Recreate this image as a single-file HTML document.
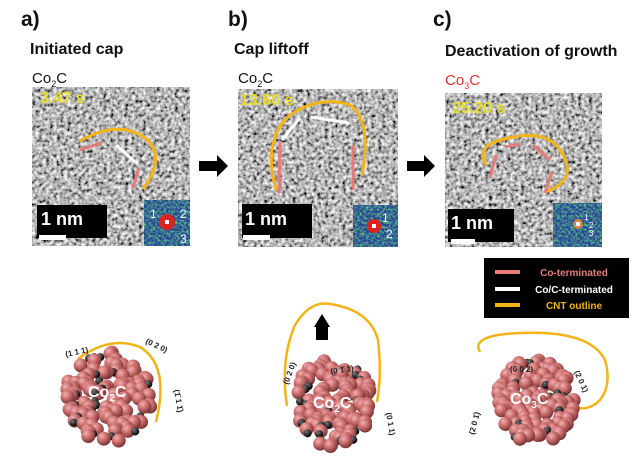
<!DOCTYPE html>
<html><head><meta charset="utf-8"><style>
body{margin:0;width:639px;height:461px;background:#fff;overflow:hidden;position:relative;font-family:"Liberation Sans",sans-serif}
.t{position:absolute;color:#111;white-space:nowrap}
</style></head><body>
<svg width="639" height="461" style="position:absolute;left:0;top:0" xmlns="http://www.w3.org/2000/svg">
<defs>
<filter id="tem" x="0" y="0" width="100%" height="100%">
<feTurbulence type="fractalNoise" baseFrequency="0.28" numOctaves="2" seed="4"/>
<feColorMatrix type="matrix" values="1.7 0 0 0 -0.38  1.7 0 0 0 -0.38  1.7 0 0 0 -0.38  0 0 0 0 1"/>
</filter>
<filter id="fft" x="0" y="0" width="100%" height="100%">
<feTurbulence type="fractalNoise" baseFrequency="0.45" numOctaves="1" seed="7"/>
<feColorMatrix type="matrix" values="0 0 0 0 0.1  0 0 0 0 0.65  0 0 0 0 0.2  2.4 0 0 0 -0.9"/>
</filter>
<radialGradient id="co" cx="35%" cy="30%" r="70%"><stop offset="0" stop-color="#f2b0b0"/><stop offset="0.5" stop-color="#c86a6a"/><stop offset="1" stop-color="#7a3535"/></radialGradient>
<radialGradient id="cc" cx="35%" cy="30%" r="70%"><stop offset="0" stop-color="#777"/><stop offset="1" stop-color="#000"/></radialGradient>
</defs>
<rect x="32" y="87" width="158" height="159" filter="url(#tem)"/>
<rect x="238" y="89" width="160" height="158" filter="url(#tem)"/>
<rect x="445" y="93" width="157" height="154" filter="url(#tem)"/>
<rect x="37" y="205" width="70" height="33" fill="#000"/><rect x="39" y="235" width="27" height="5" fill="#fff"/>
<rect x="242" y="204" width="70" height="34" fill="#000"/><rect x="243" y="235" width="27" height="5" fill="#fff"/>
<rect x="448" y="209" width="66" height="33" fill="#000"/><rect x="451" y="239" width="24" height="5" fill="#fff"/>
<rect x="144" y="200" width="46" height="46" fill="#2a3f9a"/><rect x="144" y="200" width="46" height="46" filter="url(#fft)"/>
<circle cx="167" cy="222" r="8" fill="#d22"/><rect x="165" y="220" width="4" height="4" fill="#fff"/>
<rect x="353" y="205" width="45" height="42" fill="#2a3f9a"/><rect x="353" y="205" width="45" height="42" filter="url(#fft)"/>
<circle cx="374" cy="226" r="7" fill="#d22"/><rect x="372" y="224" width="4" height="4" fill="#fff"/>
<rect x="553" y="203" width="49" height="44" fill="#2a3f9a"/><rect x="553" y="203" width="49" height="44" filter="url(#fft)"/>
<circle cx="578" cy="224" r="5" fill="#c84"/><rect x="576" y="222" width="4" height="4" fill="#fff"/>
<g fill="#fff" font-size="12" font-family="Liberation Sans">
<text x="150" y="218">1</text><text x="180" y="218">2</text><text x="180" y="243">3</text>
<text x="382" y="222">1</text><text x="386" y="238">2</text>
<text x="584" y="220" font-size="8">1</text><text x="589" y="228" font-size="8">2</text><text x="589" y="236" font-size="8">3</text>
</g>
<path d="M80 141 Q120 118 148 140 Q165 160 143 189" fill="none" stroke="#f4b316" stroke-width="3"/>
<line x1="80" y1="150" x2="101" y2="143" stroke="#e87a7a" stroke-width="3"/>
<line x1="116" y1="145" x2="135" y2="162" stroke="#fff" stroke-width="3"/>
<line x1="139" y1="168" x2="133" y2="188" stroke="#e87a7a" stroke-width="3"/>
<path d="M276 190 Q262 140 290 115 Q320 95 350 105 Q372 120 362 175" fill="none" stroke="#f4b316" stroke-width="3"/>
<line x1="280" y1="142" x2="279" y2="193" stroke="#e87a7a" stroke-width="3"/>
<line x1="282" y1="140" x2="300" y2="118" stroke="#fff" stroke-width="3"/>
<line x1="311" y1="117" x2="349" y2="123" stroke="#fff" stroke-width="3"/>
<line x1="353" y1="145" x2="353" y2="190" stroke="#e87a7a" stroke-width="3"/>
<path d="M486 165 Q475 145 505 139 Q545 128 560 150 Q580 180 545 192" fill="none" stroke="#f4b316" stroke-width="3"/>
<line x1="496" y1="155" x2="490" y2="178" stroke="#e87a7a" stroke-width="3"/>
<line x1="505" y1="147" x2="520" y2="144" stroke="#e87a7a" stroke-width="3"/>
<line x1="533" y1="145" x2="550" y2="160" stroke="#e87a7a" stroke-width="3"/>
<line x1="552" y1="172" x2="545" y2="193" stroke="#e87a7a" stroke-width="3"/>
<polygon points="199,161 217,161 217,155 228,166 217,177 217,171 199,171" fill="#000"/>
<polygon points="407,161 424,161 424,155 435,166 424,177 424,171 407,171" fill="#000"/>
<rect x="484" y="258" width="145" height="60" fill="#000"/>
<line x1="495" y1="272" x2="520" y2="272" stroke="#e87a7a" stroke-width="4"/>
<line x1="495" y1="289" x2="520" y2="289" stroke="#fff" stroke-width="4"/>
<line x1="495" y1="305" x2="520" y2="305" stroke="#f4b316" stroke-width="4"/>
<g font-size="10" font-weight="bold" font-family="Liberation Sans" text-anchor="middle">
<text x="574" y="276" fill="#e87a7a">Co-terminated</text>
<text x="574" y="293" fill="#fff">Co/C-terminated</text>
<text x="574" y="309" fill="#f4b316">CNT outline</text>
</g>
<path d="M78 359 Q110 335 140 347 Q170 365 156 422" fill="none" stroke="#f4b316" stroke-width="2.5"/>
<path d="M287 406 Q280 360 295 325 Q310 300 330 304 Q370 310 378 340 Q382 375 377 402" fill="none" stroke="#f4b316" stroke-width="2.5"/>
<path d="M480 352 Q470 335 520 333 Q590 330 605 360 Q612 385 600 400 Q590 410 578 408" fill="none" stroke="#f4b316" stroke-width="2.5"/>
<polygon points="316,325 316,340 328,340 328,325" fill="#000"/>
<polygon points="322,314 314,327 330,327" fill="#000"/>
<g id="atoms"></g>
<g font-size="8" font-weight="bold" fill="#222" font-family="Liberation Sans">
<text x="66" y="357" transform="rotate(-12 66 357)">(1 1 1)</text>
<text x="145" y="343" transform="rotate(25 145 343)">(0 2 0)</text>
<text x="174" y="390" transform="rotate(80 174 390)">(1̄ 1 1̄)</text>
<text x="288" y="385" transform="rotate(-70 288 385)">(0 2 0)</text>
<text x="331" y="374" transform="rotate(-8 331 374)">(0 1̄ 1)</text>
<text x="386" y="413" transform="rotate(80 386 413)">(0 1 1)</text>
<text x="510" y="372">(0 0 2)</text>
<text x="474" y="435" transform="rotate(-75 474 435)">(2 0 1̄)</text>
<text x="574" y="372" transform="rotate(65 574 372)">(2 0 1)</text>
</g>
<g font-size="16" font-weight="bold" fill="#fff" font-family="Liberation Sans">
<text x="88" y="397">Co<tspan font-size="10" dy="4">2</tspan><tspan dy="-4">C</tspan></text>
<text x="313" y="408">Co<tspan font-size="10" dy="4">2</tspan><tspan dy="-4">C</tspan></text>
<text x="510" y="404">Co<tspan font-size="10" dy="4">3</tspan><tspan dy="-4">C</tspan></text>
</g>
</svg>
<div class="t" style="left:21px;top:8px;font-size:21px;font-weight:bold">a)</div>
<div class="t" style="left:228px;top:8px;font-size:21px;font-weight:bold">b)</div>
<div class="t" style="left:433px;top:8px;font-size:21px;font-weight:bold">c)</div>
<div class="t" style="left:30px;top:41px;font-size:16px;font-weight:bold">Initiated cap</div>
<div class="t" style="left:234px;top:41px;font-size:16px;font-weight:bold">Cap liftoff</div>
<div class="t" style="left:445px;top:43px;font-size:16px;font-weight:bold">Deactivation of growth</div>
<div class="t" style="left:32px;top:70px;font-size:15px">Co<sub style="font-size:9px">2</sub>C</div>
<div class="t" style="left:238px;top:70px;font-size:15px">Co<sub style="font-size:9px">2</sub>C</div>
<div class="t" style="left:445px;top:72px;font-size:15px;color:#e83030">Co<sub style="font-size:9px">3</sub>C</div>
<div class="t" style="left:40px;top:90px;font-size:16px;font-weight:bold;color:#e8e020">3.47 s</div>
<div class="t" style="left:240px;top:92px;font-size:16px;font-weight:bold;color:#e8e020">13.60 s</div>
<div class="t" style="left:452px;top:100px;font-size:16px;font-weight:bold;color:#e8e020">25.20 s</div>
<div class="t" style="left:41px;top:209px;font-size:18px;font-weight:bold;color:#fff">1 nm</div>
<div class="t" style="left:245px;top:209px;font-size:18px;font-weight:bold;color:#fff">1 nm</div>
<div class="t" style="left:451px;top:213px;font-size:18px;font-weight:bold;color:#fff">1 nm</div>
<script>
(function(){
var g=document.getElementById('atoms'),ns='http://www.w3.org/2000/svg',s=12345;
function r(){s=(s*16807)%2147483647;return s/2147483647;}
function cl(cx,cy,rx,ry,n){
 var pts=[];
 for(var i=0;i<n;i++){var a=r()*6.283,d=Math.sqrt(r());pts.push([cx+Math.cos(a)*d*rx,cy+Math.sin(a)*d*ry,r()<0.22]);}
 pts.sort(function(p,q){return p[1]-q[1];});
 pts.forEach(function(p){var c=document.createElementNS(ns,'circle');c.setAttribute('cx',p[0]);c.setAttribute('cy',p[1]);c.setAttribute('r',p[2]?4:7);c.setAttribute('fill',p[2]?'url(#cc)':'url(#co)');g.appendChild(c);});
}
cl(108,398,44,46,130);cl(333,403,40,44,130);cl(534,402,40,42,130);
})();
</script>
</body></html>
